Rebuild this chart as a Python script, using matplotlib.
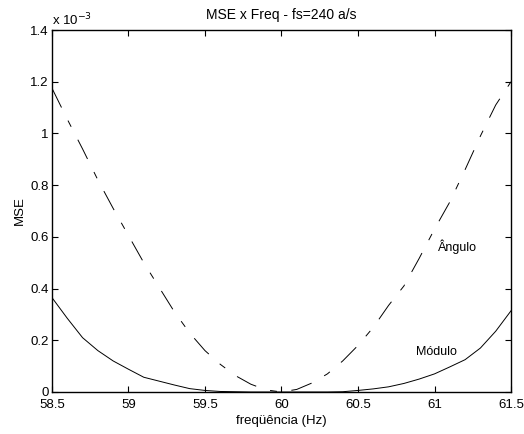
import matplotlib
matplotlib.use("Agg")
import matplotlib.pyplot as plt
from matplotlib.ticker import FuncFormatter

plt.rcParams['font.family'] = ['Liberation Sans', 'DejaVu Sans']
plt.rcParams['lines.scale_dashes'] = False

# frequency (Hz)
freq = [58.5, 58.6, 58.7, 58.8, 58.9, 59.0, 59.1, 59.2, 59.3, 59.4, 59.5,
        59.6, 59.7, 59.8, 59.9, 60.0, 60.1, 60.2, 60.3, 60.4, 60.5,
        60.6, 60.7, 60.8, 60.9, 61.0, 61.1, 61.2, 61.3, 61.4, 61.5]
# MSE values in units of 1e-3
mse_modulo = [0.365, 0.285, 0.21, 0.16, 0.12, 0.088, 0.057, 0.042, 0.027, 0.013, 0.006,
              0.002, 0.001, 0.0, 0.0, 0.0, 0.0, 0.0, 0.0, 0.001, 0.006,
              0.012, 0.02, 0.033, 0.05, 0.07, 0.097, 0.125, 0.17, 0.235, 0.314]
mse_angulo = [1.175, 1.055, 0.94, 0.82, 0.71, 0.605, 0.50, 0.405, 0.31, 0.228, 0.16,
              0.107, 0.063, 0.03, 0.008, 0.0, 0.01, 0.035, 0.07, 0.12, 0.18,
              0.25, 0.335, 0.41, 0.517, 0.63, 0.735, 0.86, 0.99, 1.11, 1.2]

xticks = [58.5, 59, 59.5, 60, 60.5, 61, 61.5]
yticks = [0, 0.2, 0.4, 0.6, 0.8, 1.0, 1.2, 1.4]

fig = plt.figure(figsize=(5.24, 4.34), dpi=100)
ax = fig.add_axes([0.0992, 0.0968, 0.876, 0.834])

ax.plot(freq, mse_modulo, color='black', lw=0.7)
ax.plot(freq, mse_angulo, color='black', lw=0.7,
        linestyle=(0, (15.5, 10.5, 5, 10.5)))

ax.set_xlim(58.5, 61.5)
ax.set_ylim(0, 1.4)
ax.set_xticks(xticks)
ax.set_yticks(yticks)
fmt = FuncFormatter(lambda v, p: '%g' % round(v, 4))
ax.xaxis.set_major_formatter(fmt)
ax.yaxis.set_major_formatter(fmt)
ax.tick_params(direction='in', length=4, width=0.8, top=True, right=True,
               labelsize=9.5, colors='black')
ax.tick_params(axis='x', pad=5)
ax.tick_params(axis='y', pad=2.5)
for s in ax.spines.values():
    s.set_linewidth(1.0)

ax.text(0.0, 1.006, 'x 10$^{-3}$', transform=ax.transAxes, fontsize=9.5,
        ha='left', va='bottom')
ax.set_title('MSE x Freq - fs=240 a/s', fontsize=10, pad=8)
ax.set_xlabel('freqüência (Hz)', fontsize=9.5, labelpad=3)
ax.set_ylabel('MSE', fontsize=9.5, labelpad=3)

ax.text(61.15, 0.56, 'Ângulo', fontsize=9, ha='center', va='center')
ax.text(61.01, 0.153, 'Módulo', fontsize=9, ha='center', va='center')

fig.savefig('out.png', dpi=100)
